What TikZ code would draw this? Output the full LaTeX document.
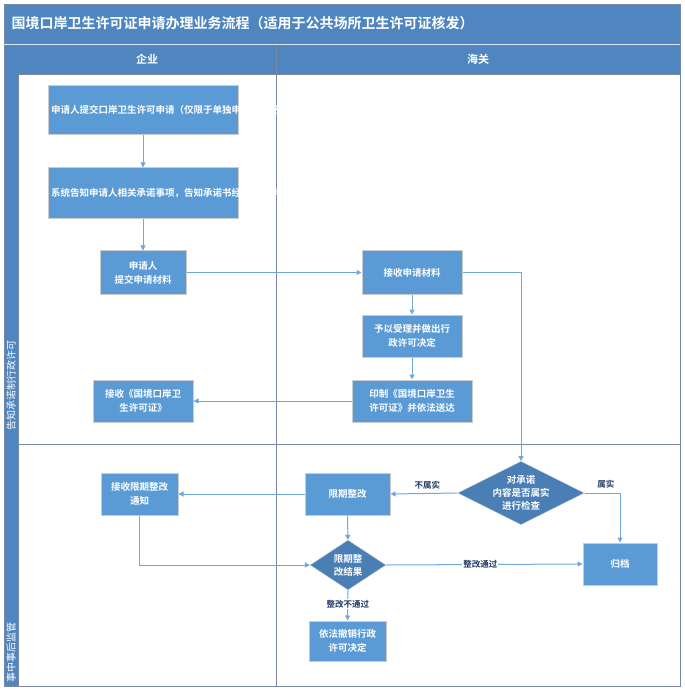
\documentclass[tikz,border=0pt]{standalone}
\usepackage{fontspec}
\setmainfont{Noto Sans CJK SC}[BoldFont={* Bold}]
\usetikzlibrary{shapes.geometric,arrows.meta}
\definecolor{lane}{HTML}{4F86BF}
\definecolor{box}{HTML}{5B9BD5}
\definecolor{dia}{HTML}{4A7FB6}
\definecolor{arr}{HTML}{6FA8DC}
\definecolor{lbl}{HTML}{1F3864}
\tikzset{
  proc/.style={rectangle,fill=box,draw=gray!40,line width=1pt,text=white,font=\bfseries\fontsize{9.5}{14}\selectfont,align=center,inner sep=1pt},
  test/.style={diamond,fill=dia,draw=gray!30,text=white,font=\bfseries\fontsize{9.5}{13}\selectfont,align=center,inner sep=0pt,aspect=2},
  flow/.style={draw=arr,line width=1pt,-{Triangle[width=5pt,length=5pt]}},
  note/.style={text=lbl,font=\bfseries\fontsize{8.5}{10}\selectfont,inner sep=1pt}
}
\begin{document}
\begin{tikzpicture}[x=1pt,y=-1pt]
\useasboundingbox (0,0) rectangle (684,692);
%frame and lanes
\fill[lane] (4,4) rectangle (680,44);
\fill[lane] (4,44) rectangle (18,686);
\fill[lane] (18,44) rectangle (680,74);
\draw[lbl!60,line width=0.8pt] (4,4) rectangle (680,686);
\draw[lbl!60,line width=0.8pt] (18,74) rectangle (680,686);
\draw[lbl!60,line width=0.8pt] (276,44) -- (276,686);
\draw[lbl!60,line width=0.8pt] (18,444) -- (680,444);
\draw[white!80!lane] (4,44) -- (680,44);
\node[anchor=west,text=white,font=\bfseries\fontsize{14}{16}\selectfont] (title) at (8,23) {国境口岸卫生许可证申请办理业务流程（适用于公共场所卫生许可证核发）};
\node[text=white,font=\bfseries\fontsize{11}{13}\selectfont] (qy) at (147,59) {企业};
\node[text=white,font=\bfseries\fontsize{11}{13}\selectfont] (hg) at (478,59) {海关};
\node[text=white,rotate=90,font=\fontsize{10}{12}\selectfont] (lane1) at (11,385) {告知承诺制行政许可};
\node[text=white,rotate=90,font=\fontsize{10}{12}\selectfont] (lane2) at (11,652) {事中事后监管};

%steps
\node[proc,minimum width=190,minimum height=49,text width=184] (b1) at (143,110.5) {申请人提交口岸卫生许可申请（仅限于单独申请公共场所卫生许可项目），同时选择告知承诺制};
\node[proc,minimum width=190,minimum height=51,text width=184] (b2) at (143,193.5) {系统告知申请人相关承诺事项，告知承诺书经海关和申请人双方签章后生效，申请人确认做出承诺，};
\node[proc,minimum width=86,minimum height=43] (b3) at (143,272.5) {申请人\\提交申请材料};
\node[proc,minimum width=100,minimum height=43] (b4) at (412,272.5) {接收申请材料};
\node[proc,minimum width=100,minimum height=42] (b5) at (412,336) {予以受理并做出行\\政许可决定};
\node[proc,minimum width=120,minimum height=42] (b6) at (412,401) {印制《国境口岸卫生\\许可证》并依法送达};
\node[proc,minimum width=100,minimum height=42] (b7) at (143,401) {接收《国境口岸卫\\生许可证》};
\node[test,minimum width=120,minimum height=62] (d1) at (521,493) {对承诺\\内容是否属实\\进行检查};
\node[proc,minimum width=85,minimum height=42] (b8) at (347.5,494) {限期整改};
\node[proc,minimum width=77,minimum height=42] (b9) at (139.5,494) {接收限期整改\\通知};
\node[test,minimum width=76,minimum height=50] (d2) at (348,565) {限期整\\改结果};
\node[proc,minimum width=74,minimum height=42] (b10) at (620,564) {归档};
\node[proc,minimum width=77,minimum height=40] (b11) at (347.5,641) {依法撤销行政\\许可决定};

%arrows
\draw[flow] (b1) -- (b2);
\draw[flow] (b2) -- (b3);
\draw[flow] (b3) -- (b4);
\draw[flow] (b4) -- (b5);
\draw[flow] (b5) -- (b6);
\draw[flow] (b6) -- (b7);
\draw[flow] (b4.east) -| (d1.north);
\draw[flow] (d1.west) -- (b8.east) node[note,pos=0.45,above=3pt] {不属实};
\draw[flow] (d1.east) -| (b10.north) node[note,pos=0.3,above=3pt] {属实};
\draw[flow] (b8) -- (d2);
\draw[flow] (b8) -- (b9);
\draw[flow] (b9.south) |- (d2.west);
\draw[flow] (d2.east) -- (b10.west) node[note,pos=0.48,fill=white] {整改通过};
\draw[flow] (d2.south) -- (b11.north) node[note,pos=0.45,fill=white] {整改不通过};
\end{tikzpicture}
\end{document}
